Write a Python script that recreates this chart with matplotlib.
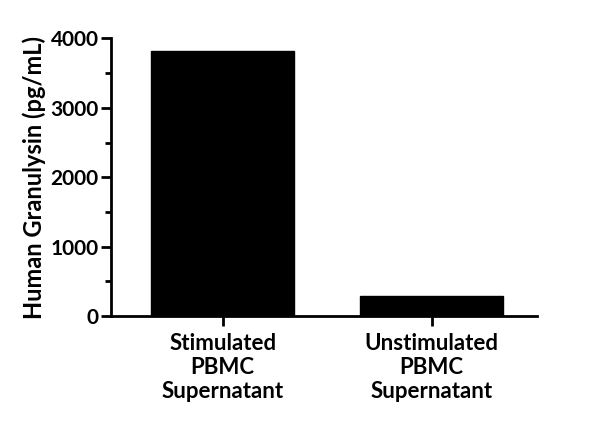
import numpy as np
import matplotlib
matplotlib.use('Agg')
import matplotlib.pyplot as plt
from matplotlib.ticker import MultipleLocator

# ----Data------------
categories = ['Stimulated\nPBMC\nSupernatant', 'Unstimulated\nPBMC\nSupernatant']
values = [3820, 285]
y_label = 'Human Granulysin (pg/mL)'

plt.rcParams['font.family'] = ['Lato', 'DejaVu Sans']
plt.rcParams['font.weight'] = 'bold'

fig = plt.figure(figsize=(6, 4.37), dpi=100)
ax = fig.add_axes([0.185, 0.277, 0.71, 0.635])

x = np.arange(len(categories))
ax.bar(x, values, width=0.685, color='black', edgecolor='black')

# Axes limits and ticks
ax.set_xlim(-0.534, 1.504)
ax.set_ylim(0, 4000)
ax.set_xticks(x)
ax.set_xticklabels(categories, fontsize=16, fontweight='bold', linespacing=1.2)
ax.yaxis.set_major_locator(MultipleLocator(1000))
ax.yaxis.set_minor_locator(MultipleLocator(500))
ax.tick_params(axis='y', which='major', length=7, width=2, labelsize=15, pad=2)
ax.tick_params(axis='y', which='minor', length=4, width=2)
ax.tick_params(axis='x', length=7, width=2, pad=5)
for lbl in ax.get_yticklabels():
    lbl.set_fontweight('bold')

ax.set_ylabel(y_label, fontsize=17, fontweight='bold', labelpad=3)

# Spines
for side in ['top', 'right']:
    ax.spines[side].set_visible(False)
for side in ['left', 'bottom']:
    ax.spines[side].set_linewidth(2)

fig.savefig('out.png', dpi=100)
